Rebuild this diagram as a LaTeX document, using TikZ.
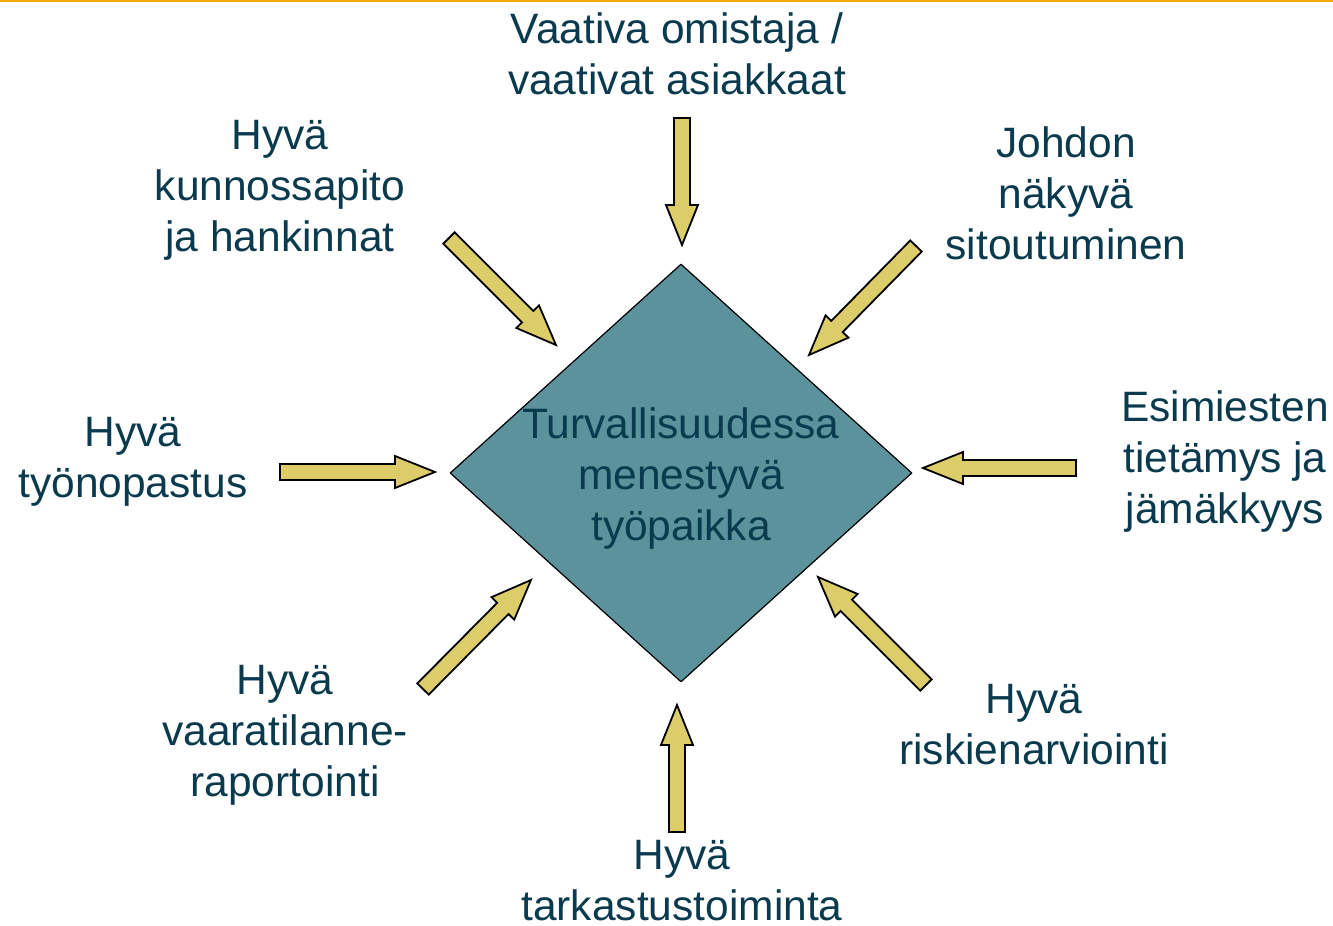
\documentclass[tikz,border=0pt]{standalone}
\usepackage{fontspec}
\setmainfont{Liberation Sans}
\usetikzlibrary{calc}
\usetikzlibrary{shapes.geometric}
\definecolor{labeltext}{RGB}{10,58,78}
\definecolor{hubfill}{RGB}{91,146,155}
\definecolor{arrowfill}{RGB}{220,205,106}
\definecolor{topline}{RGB}{245,168,0}
\tikzset{
  lbl/.style={align=center,text=labeltext,font=\fontsize{42.5}{51}\selectfont,inner sep=0pt},
  hub/.style={diamond,draw=black,line width=1.2pt,fill=hubfill,minimum width=462pt,minimum height=418pt,inner sep=0pt,aspect=1.1},
  blockarr/.style={draw=black,line width=1.8pt,fill=arrowfill,line join=miter}
}
\newcommand{\blockarrow}[2]{%
  \draw[blockarr] let \p1=(#1), \p2=(#2), \n1={atan2(\y2-\y1,\x2-\x1)}, \n2={veclen(\x2-\x1,\y2-\y1)} in
    [shift={(\p1)},rotate=\n1]
    (0pt,-8pt) -- ({\n2-40pt},-8pt) -- ({\n2-40pt},-16pt) -- ({\n2+0pt},0pt)
    -- ({\n2-40pt},16pt) -- ({\n2-40pt},8pt) -- (0pt,8pt) -- cycle;}

\begin{document}
\begin{tikzpicture}[line cap=round,line join=round,x=1pt,y=-1pt]
\useasboundingbox (0,0) rectangle (1333,926);
\draw [topline,line width=2.5pt,line cap=butt] (0,1) -- (1333,1);
\node (hub) [hub] at (681,473) {};
\node (hubtext) [lbl] at (681,479) {Turvallisuudessa\\menestyvä\\työpaikka};
\node (omistaja) [lbl] at (677,54) {Vaativa omistaja /\\vaativat asiakkaat};
\node (kunnossapito) [lbl] at (280,190) {Hyvä\\kunnossapito\\ja hankinnat};
\node (johdon) [lbl] at (1066,193) {Johdon\\näkyvä\\sitoutuminen};
\node (tyonopastus) [lbl] at (133,462) {Hyvä\\työnopastus};
\node (esimiesten) [lbl] at (1225,462) {Esimiesten\\tietämys ja\\jämäkkyys};
\node (vaaratilanne) [lbl] at (285,735) {Hyvä\\vaaratilanne-\\raportointi};
\node (riskien) [lbl] at (1034,725) {Hyvä\\riskienarviointi};
\node (tarkastus) [lbl] at (682,881) {Hyvä\\tarkastustoiminta};
\coordinate (omistaja-s) at (682,118);
\coordinate (omistaja-e) at (682,245);
\coordinate (kunnossapito-s) at (449,238);
\coordinate (kunnossapito-e) at (556,345);
\coordinate (johdon-s) at (916,246);
\coordinate (johdon-e) at (809,355);
\coordinate (tyonopastus-s) at (280,472);
\coordinate (tyonopastus-e) at (435,472);
\coordinate (esimiesten-s) at (1076,468);
\coordinate (esimiesten-e) at (923,468);
\coordinate (vaaratilanne-s) at (423,689);
\coordinate (vaaratilanne-e) at (531,580);
\coordinate (riskien-s) at (926,685);
\coordinate (riskien-e) at (818,577);
\coordinate (tarkastus-s) at (677,832);
\coordinate (tarkastus-e) at (677,705);
\blockarrow{omistaja-s}{omistaja-e}
\blockarrow{kunnossapito-s}{kunnossapito-e}
\blockarrow{johdon-s}{johdon-e}
\blockarrow{tyonopastus-s}{tyonopastus-e}
\blockarrow{esimiesten-s}{esimiesten-e}
\blockarrow{vaaratilanne-s}{vaaratilanne-e}
\blockarrow{riskien-s}{riskien-e}
\blockarrow{tarkastus-s}{tarkastus-e}
\end{tikzpicture}
\end{document}
